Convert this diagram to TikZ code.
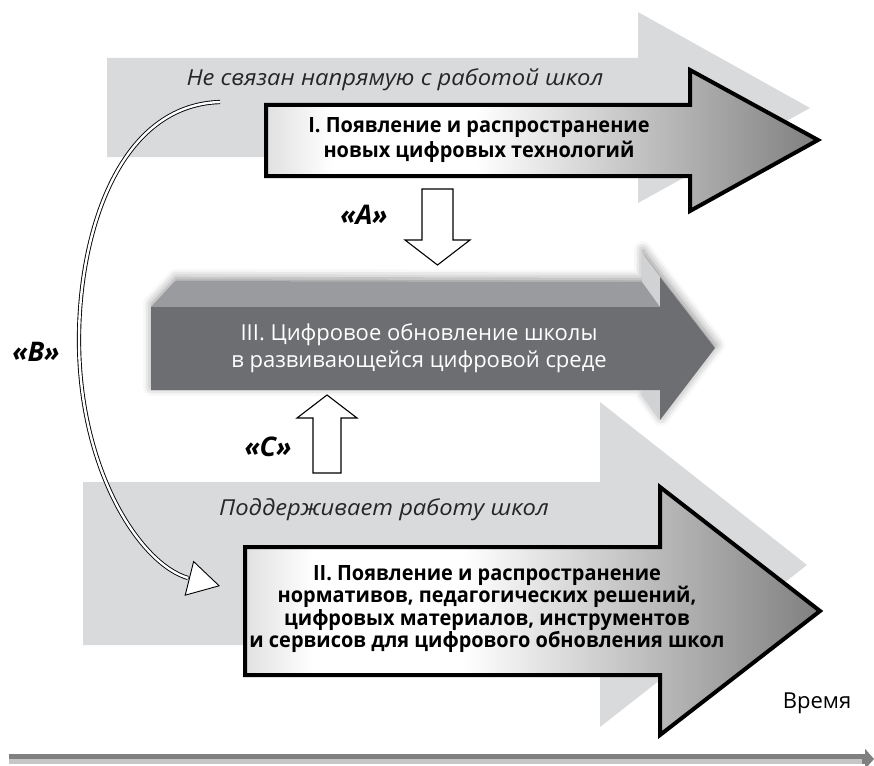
\documentclass[tikz,border=0pt]{standalone}
\usepackage{fontspec}
\setmainfont{Open Sans}
\newfontfamily\narrowbf[FakeStretch=0.95]{Open Sans}
\newfontfamily\wideit[FakeStretch=1.08]{Open Sans}
\usepackage{tikz}
\usetikzlibrary{
    arrows.meta,
    shadows.blur,
    calc
}

\definecolor{bandgray}{HTML}{D9DADB}
\definecolor{frontgray}{HTML}{6D6E71}
\definecolor{topgray}{HTML}{9A9B9E}
\definecolor{stepgray}{HTML}{D1D2D4}
\definecolor{axisdark}{HTML}{808080}
\definecolor{axislight}{HTML}{C6C6C6}

\pgfdeclarehorizontalshading{techshade}{100bp}{color(0bp)=(black!12); color(25bp)=(black!12); color(31bp)=(white); color(44bp)=(white); color(75bp)=(black!50); color(100bp)=(black!50)}

\tikzset{
    band/.style={fill=bandgray},
    techarrow/.style={draw=black, line width=4pt, line join=miter, shading=techshade},
    blockarrow/.style={draw=black, line width=1.1pt, fill=white, line join=miter},
    sidenote/.style={font=\wideit\itshape\fontsize{22}{26}\selectfont, text=black!85},
    stagetext/.style={font=\narrowbf\bfseries\fontsize{21}{25}\selectfont, align=center},
    stagetextsmall/.style={font=\narrowbf\bfseries\fontsize{21}{22.4}\selectfont, align=center},
    routelabel/.style={font=\bfseries\itshape\fontsize{27}{30}\selectfont},
    bline/.style={draw=black, line width=0.9pt, double=white, double distance=2.4pt},
    btip/.style={draw=black, line width=0.9pt, -{Triangle[length=32pt, width=36pt, fill=white]}}
}

\begin{document}
\begin{tikzpicture}[x=1pt, y=-1pt]
    \useasboundingbox (0, 0) rectangle (874, 765);

    \fill[band] (107, 58) -- (638, 58) -- (638, 12) -- (810, 108) -- (638, 203) -- (638, 157) -- (107, 157) -- cycle;
    \fill[band] (83, 482) -- (600, 482) -- (600, 402) -- (807, 565) -- (600, 727) -- (600, 645) -- (83, 645) -- cycle;

    \fill[stepgray, blur shadow={shadow xshift=1pt, shadow yshift=3pt, shadow blur radius=9pt, shadow opacity=45}]
    (151, 307) -- (175, 281) -- (642, 282) -- (642, 253) -- (660, 277) -- (715, 348)
    -- (660, 420) -- (642, 395) -- (642, 390) -- (151, 390) -- cycle;
    \fill[topgray] (151, 307) -- (175, 281) -- (642, 282) -- (660, 307) -- cycle;
    \fill[frontgray] (151, 307) -- (660, 307) -- (660, 277) -- (715, 348) -- (660, 420) -- (660, 390) -- (151, 390) -- cycle;

    \draw[techarrow] (266, 105) -- (690, 105) -- (690, 70) -- (818, 140) -- (690, 211) -- (690, 176) -- (266, 176) -- cycle;
    \draw[techarrow] (245, 547) -- (660, 547) -- (660, 487) -- (820, 611) -- (660, 735) -- (660, 675) -- (245, 675) -- cycle;

    \draw[blockarrow] (422, 189) -- (453, 189) -- (453, 240) -- (470, 240) -- (437.5, 265) -- (405, 240) -- (422, 240) -- cycle;
    \draw[blockarrow] (313, 473) -- (313, 418) -- (297, 418) -- (327, 395) -- (357, 418) -- (341, 418) -- (341, 473) -- cycle;

    \coordinate (bstart) at (220, 102);
    \coordinate (bleft) at (79, 340);
    \coordinate (bbase) at (188, 578);
    \coordinate (btipend) at (220, 586);
    \draw[bline] (bstart) .. controls (120, 105) and (79, 230) .. (bleft)
    .. controls (79, 470) and (140, 564) .. (bbase);
    \draw[btip] (bbase) -- (btipend);

    \draw[line width=10pt, axisdark, -{Triangle[length=9pt, width=20pt]}] (9, 759) coordinate (tstart) -- (874, 759) coordinate (tend);
    \draw[line width=5pt, axislight] ($(tstart) + (0, 2.5)$) -- ($(tend) + (-12, 2.5)$);

    \node[sidenote] (notdirect) at (395, 80) {Не связан напрямую с работой школ};
    \node[sidenote] (supports) at (384, 510) {Поддерживает работу школ};

    \node[stagetext] (stageone) at (479, 140.5) {I. Появление и распространение\\новых цифровых технологий};
    \node[font=\fontsize{22}{27}\selectfont, text=white, align=center] (stagethree) at (419, 348) {III. Цифровое обновление школы\\в развивающейся цифровой среде};
    \node[stagetextsmall] (stagetwo) at (487, 609) {II. Появление и распространение\\нормативов, педагогических решений,\\цифровых материалов, инструментов\\и сервисов для цифрового обновления школ};

    \node[routelabel] (routea) at (364, 215) {«A»};
    \node[routelabel] (routeb) at (36, 352) {«B»};
    \node[routelabel] (routec) at (268, 447) {«C»};

    \node[font=\fontsize{22}{26}\selectfont] (timelabel) at (817, 703) {Время};
\end{tikzpicture}
\end{document}
